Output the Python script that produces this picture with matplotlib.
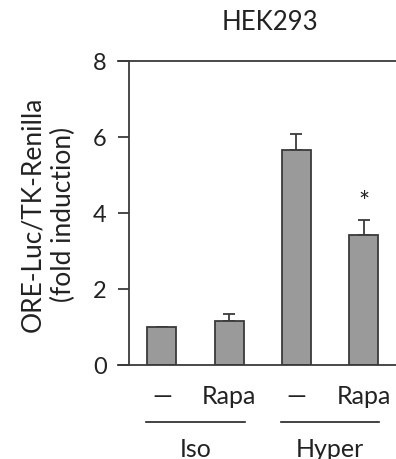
import numpy as np
import matplotlib.pyplot as plt
from matplotlib.transforms import blended_transform_factory

plt.rcParams['font.family'] = ['Lato', 'DejaVu Sans']

conditions = ['\u2014', 'Rapa', '\u2014', 'Rapa']
groups = ['Iso', 'Hyper']
values = [1.0, 1.16, 5.66, 3.42]
errors = [0.0, 0.18, 0.42, 0.40]
signif = ['', '', '', '*']

fig = plt.figure(figsize=(3.96, 4.60), dpi=100)
ax = fig.add_axes([129 / 396, 1 - 366 / 460, 1 - 129 / 396, (366 - 62) / 460])

x = np.arange(len(values))
ax.bar(x, values, width=0.43, color='#9a9a9a', edgecolor='#3a3a3a', linewidth=1.3, zorder=2)
ax.errorbar(x, values, yerr=[np.zeros(len(errors)), errors], fmt='none',
            ecolor='#3a3a3a', elinewidth=1.3, capsize=4, capthick=1.3, zorder=1)
for xi, v, e, s in zip(x, values, errors, signif):
    if s:
        ax.text(xi, v + e + 0.12, s, ha='center', va='bottom', fontsize=19, color='#222222')

ax.set_xlim(-0.49, 3.48)
ax.set_ylim(0, 8)
ax.set_yticks([0, 2, 4, 6, 8])
ax.set_xticks(x)
ax.set_xticklabels(conditions)
ax.tick_params(axis='y', direction='out', length=8, width=1.3, color='#3a3a3a',
               labelsize=17, pad=8, labelcolor='#222222')
ax.tick_params(axis='x', length=0, labelsize=18, pad=14, labelcolor='#222222')
for side in ['left', 'top', 'bottom']:
    ax.spines[side].set_color('#3a3a3a')
    ax.spines[side].set_linewidth(1.3)
ax.spines['right'].set_visible(False)
ax.spines['top'].set_bounds(-0.49 - 0.16, 3.48)
ax.spines['bottom'].set_bounds(-0.49 - 0.16, 3.48)

trans = blended_transform_factory(ax.transData, ax.transAxes)
for gi, g in enumerate(groups):
    c = gi * 2 + 0.5
    ax.plot([c - 0.73, c + 0.73], [-0.1875, -0.1875], color='#222222', lw=1.2,
            transform=trans, clip_on=False)
    ax.text(c, -0.275, g, ha='center', va='center', fontsize=18, color='#222222',
            transform=trans)

ax.set_ylabel('ORE-Luc/TK-Renilla\n(fold induction)', fontsize=19, color='#222222',
              linespacing=1.3, labelpad=12)
fig.text(270 / 396, 1 - 23 / 460, 'HEK293', ha='center', va='center', fontsize=18.5,
         color='#222222')

fig.savefig('out.png', dpi=100)
